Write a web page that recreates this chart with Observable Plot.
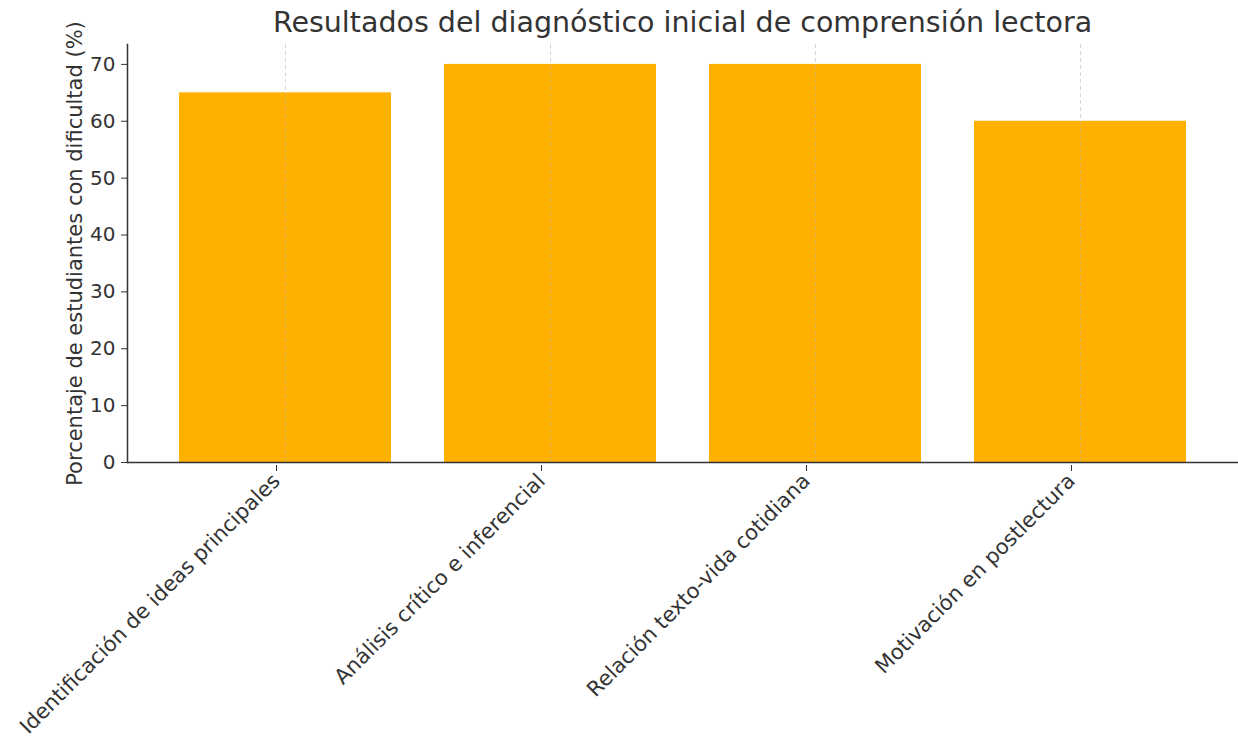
<!DOCTYPE html>
<html>
<head>
<meta charset="utf-8">
<script src="https://cdn.jsdelivr.net/npm/d3@7"></script>
<script src="https://cdn.jsdelivr.net/npm/@observablehq/plot@0.6"></script>
<style>
  html, body { margin: 0; padding: 0; background: #fff; }
  body { width: 1238px; height: 739px; overflow: hidden; font-family: "DejaVu Sans", sans-serif; position: relative; }
  #title { position: absolute; top: 0; left: 0; height: 44px; line-height: 46px; font-size: 28.5px; color: #333; text-align: center; padding-left: 127px; box-sizing: border-box; width: 1238px; white-space: nowrap; z-index: 2; }
  svg { display: block; overflow: visible; }
</style>
</head>
<body>
<div id="chart"></div>
<div id="title">Resultados del diagnóstico inicial de comprensión lectora</div>
<script>
const categories = [
  "Identificación de ideas principales",
  "Análisis crítico e inferencial",
  "Relación texto-vida cotidiana",
  "Motivación en postlectura"
];
const values = [65, 70, 70, 60];
const yTicks = [0, 10, 20, 30, 40, 50, 60, 70];
const yLabel = "Porcentaje de estudiantes con dificultad (%)";

const data = categories.map((c, i) => ({category: c, value: values[i]}));

const chart = Plot.plot({
  width: 1238,
  height: 739,
  marginTop: 44,
  marginLeft: 127,
  marginRight: 0,
  marginBottom: 277,
  style: {fontFamily: "DejaVu Sans, sans-serif", fontSize: "20px", color: "#333", background: "transparent", overflow: "visible"},
  x: {domain: categories, paddingInner: 0.2, paddingOuter: 0.19},
  y: {domain: [0, 73.5]},
  marks: [
    Plot.barY(data, {x: "category", y: "value", fill: "#FFB000"}),
    Plot.gridX(categories, {stroke: "#b0b0b0", strokeOpacity: 0.5, strokeDasharray: "4,3", strokeWidth: 1}),
    Plot.ruleY([0], {stroke: "#333", strokeWidth: 1.5}),
    Plot.frame({anchor: "left", stroke: "#333", strokeWidth: 1.5}),
    Plot.axisY(yTicks, {tickSize: 6, tickPadding: 6, stroke: "#333", fill: "#333", fontSize: 20,
      label: null}),
    Plot.text([yLabel], {frameAnchor: "left", rotate: -90, dx: -52, fontSize: 21, fill: "#333", textAnchor: "middle"}),
    Plot.axisX({tickSize: 6, tickPadding: 6, tickRotate: -45, stroke: "#333", fill: "#333", fontSize: 21, label: null, dx: -9, dy: 3})
  ]
});
document.getElementById("chart").appendChild(chart);
</script>
</body>
</html>
